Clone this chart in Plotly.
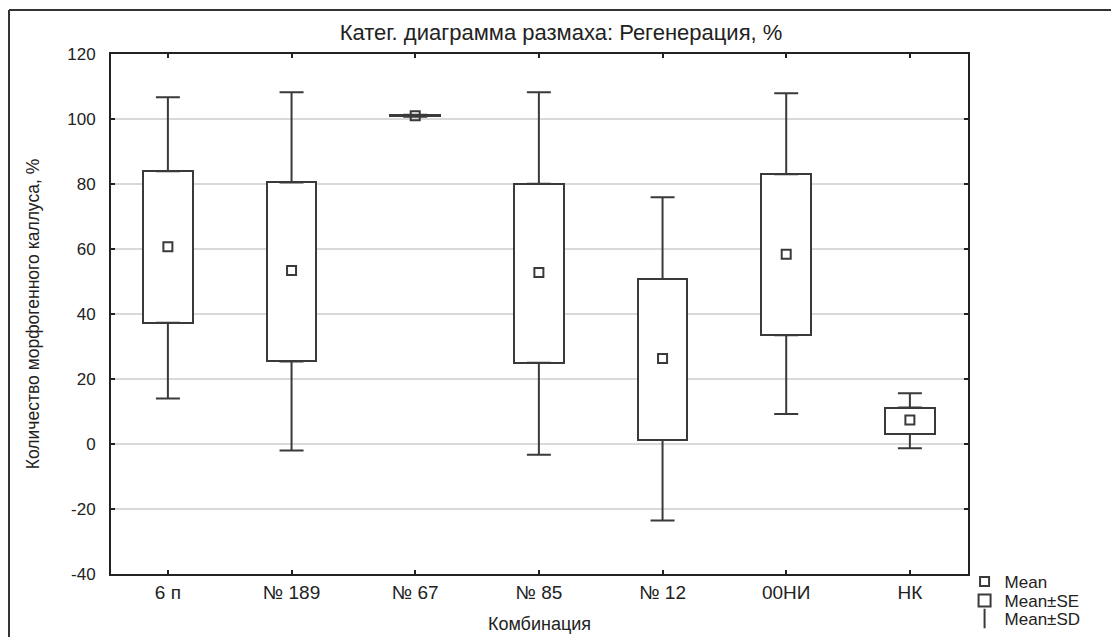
import plotly.graph_objects as go

categories = ["6 п", "№ 189", "№ 67", "№ 85", "№ 12", "00НИ", "НК"]
means = [60.7, 53.4, 101.0, 52.8, 26.3, 58.4, 7.4]
se_low = [37.3, 25.4, 100.8, 25.0, 1.2, 33.5, 3.1]
se_high = [83.9, 80.5, 101.2, 80.1, 50.8, 83.0, 11.2]
sd_low = [14.0, -2.0, 100.7, -3.3, -23.5, 9.2, -1.3]
sd_high = [106.7, 108.2, 101.3, 108.2, 75.9, 107.9, 15.6]
y_ticks = [-40, -20, 0, 20, 40, 60, 80, 100, 120]
y_tick_text = ["-40", "-20", "0", "20", "40", "60", "80", "100", "120"]

LINE = "#3a3a3a"
FONT = "Liberation Sans, Arial, sans-serif"

fig = go.Figure()

# Mean ± SE boxes
fig.add_trace(go.Bar(
    x=categories,
    base=se_low,
    y=[h - l for h, l in zip(se_high, se_low)],
    width=0.4,
    marker=dict(color="white", line=dict(color=LINE, width=2)),
    name="Mean±SE",
    legend="legend2",
))

# upper whiskers (from box top to mean+SD)
fig.add_trace(go.Scatter(
    x=categories, y=se_high, mode="markers",
    marker=dict(size=0.1, color="rgba(0,0,0,0)"),
    error_y=dict(type="data", symmetric=False,
                 array=[max(h - s, 0) for h, s in zip(sd_high, se_high)],
                 arrayminus=[0] * len(categories),
                 color=LINE, thickness=2, width=12),
    showlegend=False, hoverinfo="skip",
))
# lower whiskers
fig.add_trace(go.Scatter(
    x=categories, y=se_low, mode="markers",
    marker=dict(size=0.1, color="rgba(0,0,0,0)"),
    error_y=dict(type="data", symmetric=False,
                 array=[0] * len(categories),
                 arrayminus=[max(s - l, 0) for s, l in zip(se_low, sd_low)],
                 color=LINE, thickness=2, width=12),
    showlegend=False, hoverinfo="skip",
))

# Means
fig.add_trace(go.Scatter(
    x=categories, y=means, mode="markers",
    marker=dict(symbol="square-open", size=9, color=LINE, line=dict(width=2, color=LINE)),
    name="Mean",
    legend="legend",
))

# legend entry for SD
fig.add_trace(go.Scatter(
    x=[None], y=[None], mode="markers",
    marker=dict(symbol="line-ns-open", size=14, color=LINE, line=dict(width=2, color=LINE)),
    name="Mean±SD",
    legend="legend3",
))

# figure geometry (page has an 8px body margin)
L, T, PW, PH = 103, 46, 857, 520

# outer frame (left and top edges visible)
fx0 = (1 - L) / PW
fy1 = (PH + T - 2) / PH
fig.add_shape(type="line", xref="paper", yref="paper", x0=fx0, x1=fx0, y0=-0.3, y1=fy1,
              line=dict(color="#333", width=2), layer="below")
fig.add_shape(type="line", xref="paper", yref="paper", x0=fx0, x1=1.3, y0=fy1, y1=fy1,
              line=dict(color="#333", width=2), layer="below")

leg_common = dict(x=0.996, xanchor="left", yanchor="middle",
                  font=dict(size=17, family=FONT), bgcolor="rgba(0,0,0,0)", itemwidth=30)

fig.update_layout(
    width=1119, height=637,
    margin=dict(l=L, r=1119 - L - PW, t=T, b=637 - T - PH, autoexpand=False),
    paper_bgcolor="white", plot_bgcolor="white",
    font=dict(family=FONT, color="#222", size=16),
    title=dict(text="Катег. диаграмма размаха: Регенерация, %", x=553 / 1119, xref="container",
               xanchor="center", y=1 - 24 / 637, yanchor="middle",
               font=dict(size=22, family=FONT, color="#222")),
    showlegend=True,
    legend=dict(y=-(574 - 566) / PH, **leg_common),
    legend2=dict(y=-(593 - 566) / PH, **leg_common),
    legend3=dict(y=-(611 - 566) / PH, **leg_common),
    barmode="overlay",
    bargap=0,
)

fig.update_xaxes(
    type="category", range=[-0.46, 6.47], automargin=False,
    showline=True, linecolor="#222", linewidth=2, mirror="ticks",
    ticks="inside", ticklen=4, tickwidth=2, tickcolor="#222",
    showgrid=False, zeroline=False,
    tickfont=dict(size=19, family=FONT),
    title=dict(text="Комбинация", font=dict(size=18, family=FONT), standoff=16),
)
fig.update_yaxes(
    range=[-40, 120], tickvals=y_ticks, ticktext=y_tick_text, automargin=False,
    showline=True, linecolor="#222", linewidth=2, mirror="ticks",
    ticks="inside", ticklen=4, tickwidth=2, tickcolor="#222",
    showgrid=True, gridcolor="#d9d9d9", gridwidth=1.5, zeroline=False,
    tickfont=dict(size=17, family=FONT), ticklabelstandoff=10,
    title=dict(text="Количество морфогенного каллуса, %", font=dict(size=17.5, family=FONT), standoff=23),
)

fig.write_html("out.html")
